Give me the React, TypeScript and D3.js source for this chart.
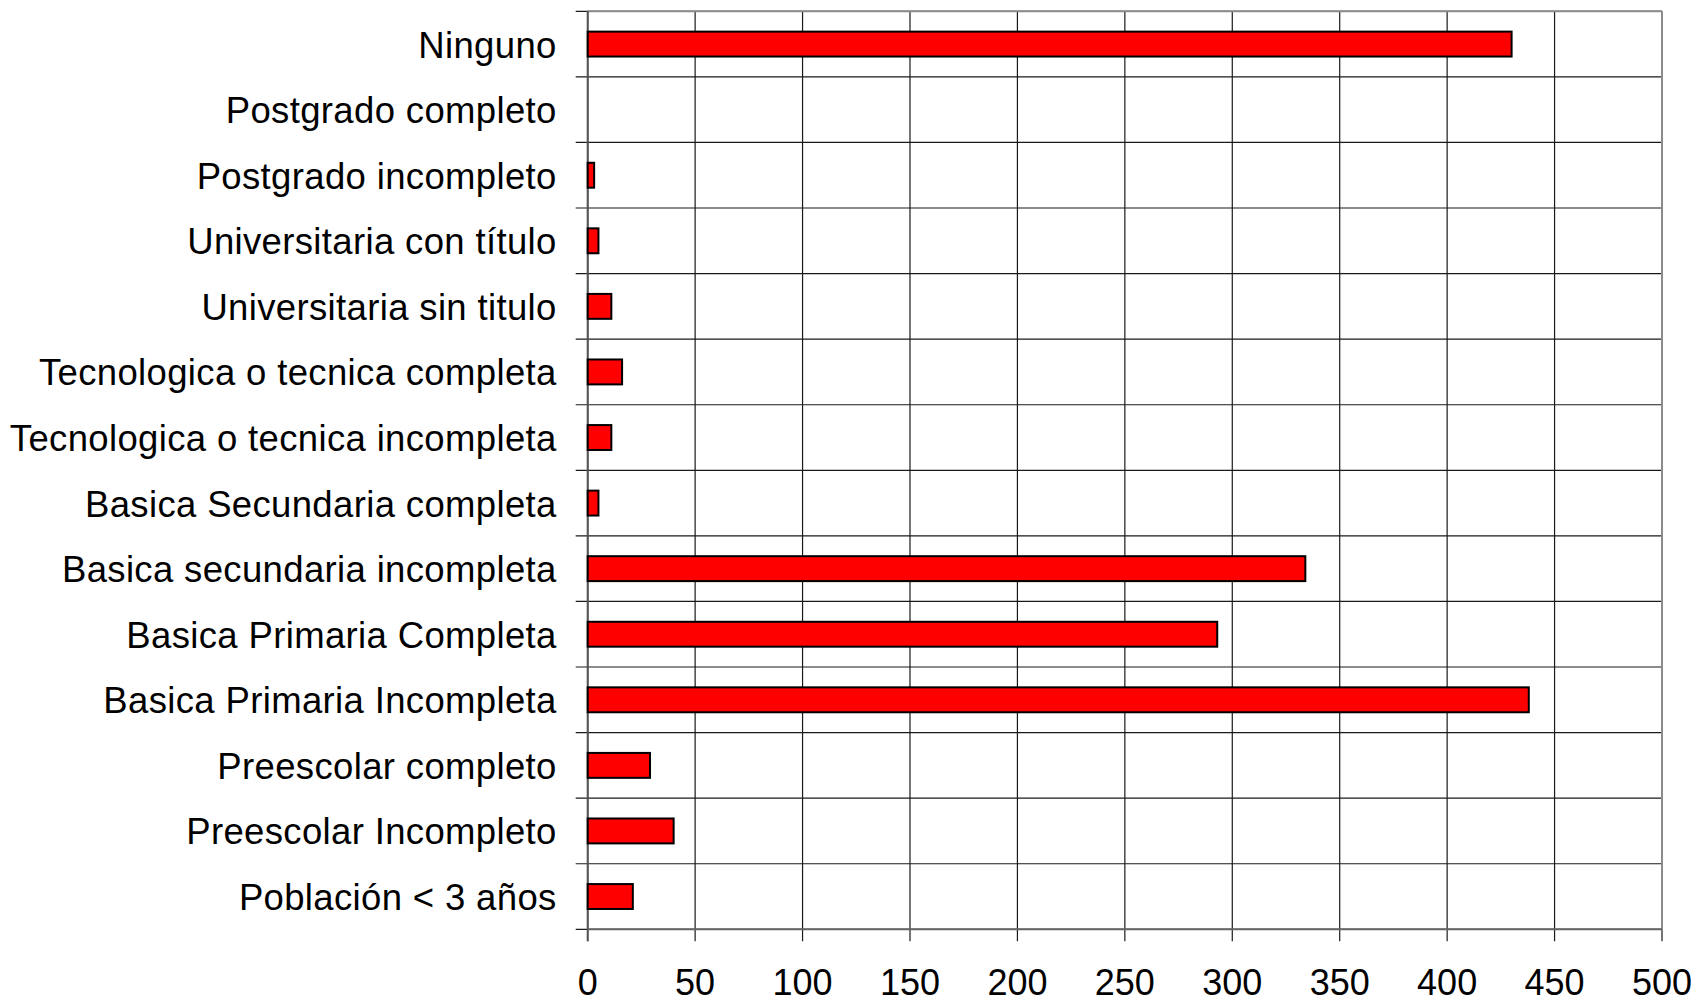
import React from "react";
import * as d3 from "d3";

const categories = [
  "Ninguno",
  "Postgrado completo",
  "Postgrado incompleto",
  "Universitaria con título",
  "Universitaria sin titulo",
  "Tecnologica o tecnica completa",
  "Tecnologica o tecnica incompleta",
  "Basica Secundaria completa",
  "Basica secundaria incompleta",
  "Basica Primaria Completa",
  "Basica Primaria Incompleta",
  "Preescolar completo",
  "Preescolar Incompleto",
  "Población < 3 años",
];

const values = [430, 0, 3, 5, 11, 16, 11, 5, 334, 293, 438, 29, 40, 21];

const xTicks = [0, 50, 100, 150, 200, 250, 300, 350, 400, 450, 500];

const W = 1696;
const H = 1003;
const left = 587.7;
const right = 1662;
const top = 11.3;
const bottom = 929.3;
const tickLen = 12;
const font = "'Liberation Sans', Arial, sans-serif";

export default function App() {
  const x = d3.scaleLinear().domain([0, 500]).range([left, right]);
  const y = d3
    .scaleBand<string>()
    .domain(categories)
    .range([top, bottom])
    .paddingInner(0.62)
    .paddingOuter(0.31);
  const step = y.step();
  const boundaries = d3.range(categories.length + 1).map((i) => top + i * step);

  return (
    <svg
      width={W}
      height={H}
      style={{ position: "absolute", left: 0, top: 0, background: "#fff" }}
    >
      <rect x={0} y={0} width={W} height={H} fill="#fff" />
      {boundaries.map((b, i) => (
        <line
          key={"h" + i}
          x1={left - tickLen}
          x2={right}
          y1={b}
          y2={b}
          stroke="#1a1a1a"
          strokeWidth={1.2}
        />
      ))}
      {xTicks.map((t) => (
        <line
          key={"v" + t}
          x1={x(t)}
          x2={x(t)}
          y1={top}
          y2={bottom + tickLen}
          stroke="#1a1a1a"
          strokeWidth={1.2}
        />
      ))}
      <line x1={left} x2={right} y1={top} y2={top} stroke="#8c8c8c" strokeWidth={2} />
      <line x1={right} x2={right} y1={top} y2={bottom} stroke="#8c8c8c" strokeWidth={2} />
      <line x1={left} x2={right} y1={bottom} y2={bottom} stroke="#666" strokeWidth={2} />
      <line x1={left} x2={left} y1={top} y2={bottom + tickLen} stroke="#555" strokeWidth={2} />
      {categories.map((c, i) =>
        values[i] > 0 ? (
          <rect
            key={"b" + i}
            x={x(0)}
            y={y(c)!}
            width={x(values[i]) - x(0)}
            height={y.bandwidth()}
            fill="#ff0000"
            stroke="#000"
            strokeWidth={2}
          />
        ) : null
      )}
      {categories.map((c) => (
        <text
          key={"l" + c}
          x={left - 31}
          y={y(c)! + y.bandwidth() / 2 + 13.5}
          textAnchor="end"
          fontFamily={font}
          fontSize={36.5}
          letterSpacing={0.35}
          fill="#000"
        >
          {c}
        </text>
      ))}
      {xTicks.map((t) => (
        <text
          key={"t" + t}
          x={x(t)}
          y={bottom + 65.5}
          textAnchor="middle"
          fontFamily={font}
          fontSize={36}
          fill="#000"
        >
          {t}
        </text>
      ))}
    </svg>
  );
}
